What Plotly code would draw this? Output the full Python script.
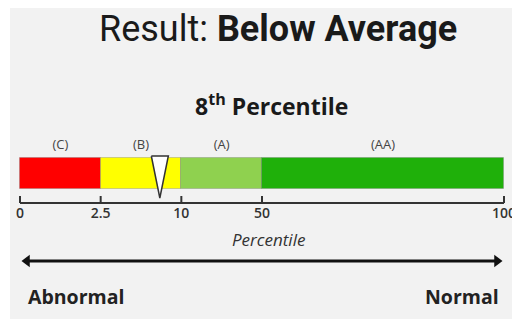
import numpy as np
import plotly.graph_objects as go

# ---- data ----
categories = ["(C)", "(B)", "(A)", "(AA)"]
boundaries = [0, 2.5, 10, 50, 100]           # percentile cut points
tick_labels = ["0", "2.5", "10", "50", "100"]
display_pos = [0, 1, 2, 3, 6]                # display scale position of each cut point
seg_colors = ["#ff0000", "#ffff00", "#8fd14f", "#1fb00a"]
result_percentile = 8
result_label = "Below Average"

# ---- layout helpers ----
W, H = 512, 322
PX_PER_UNIT = 80.67
X0_PX = 20
x_range = [-X0_PX / PX_PER_UNIT, (W - X0_PX) / PX_PER_UNIT]

def scale(p):
    return float(np.interp(p, boundaries, display_pos))

def px_to_unit(px):
    return (px - X0_PX) / PX_PER_UNIT

fig = go.Figure()

# segments as horizontal bars
starts = display_pos[:-1]
widths = [display_pos[i + 1] - display_pos[i] for i in range(len(categories))]
BAR_Y, BAR_H = 173.5, 31
fig.add_trace(go.Bar(
    orientation="h",
    y=[BAR_Y] * len(categories),
    x=widths,
    base=starts,
    width=BAR_H,
    marker=dict(color=seg_colors, line=dict(color="rgba(120,120,120,0.35)", width=1)),
    hoverinfo="skip",
    showlegend=False,
))

# category labels above segments
centers = [s + w / 2 for s, w in zip(starts, widths)]
fig.add_trace(go.Scatter(
    x=centers, y=[146] * len(categories), mode="text", text=categories,
    textfont=dict(family="Open Sans", size=13, color="#444444"),
    hoverinfo="skip", showlegend=False,
))

# axis line with ticks
AX_Y, TICK_TOP = 203, 196
ax_x, ax_y = [], []
ax_x += [display_pos[0], display_pos[-1], None]
ax_y += [AX_Y, AX_Y, None]
for p in display_pos:
    ax_x += [p, p, None]
    ax_y += [AX_Y, TICK_TOP, None]
fig.add_trace(go.Scatter(
    x=ax_x, y=ax_y, mode="lines", line=dict(color="#333333", width=2),
    hoverinfo="skip", showlegend=False,
))
fig.add_trace(go.Scatter(
    x=display_pos, y=[214] * len(display_pos), mode="text", text=tick_labels,
    textfont=dict(family="Open Sans", size=14, color="#333333", weight=600),
    hoverinfo="skip", showlegend=False,
))

# pointer triangle at result percentile
px = scale(result_percentile)
half_w = 8.5 / PX_PER_UNIT
fig.add_trace(go.Scatter(
    x=[px - half_w, px + half_w, px, px - half_w],
    y=[156, 156, 198, 156],
    mode="lines", fill="toself", fillcolor="white",
    line=dict(color="#333333", width=1.5),
    hoverinfo="skip", showlegend=False,
))

# double-headed arrow
ARR_Y = 261
fig.add_trace(go.Scatter(
    x=[px_to_unit(28), px_to_unit(496)],
    y=[ARR_Y, ARR_Y], mode="lines", line=dict(color="#111111", width=3),
    hoverinfo="skip", showlegend=False,
))
fig.add_trace(go.Scatter(
    x=[px_to_unit(27), px_to_unit(497)],
    y=[ARR_Y, ARR_Y], mode="markers",
    marker=dict(symbol=["triangle-left", "triangle-right"], size=11, color="#111111"),
    hoverinfo="skip", showlegend=False,
))

annotations = [
    dict(x=278 / W, y=29, xref="paper", yref="y", showarrow=False,
         text="Result: <b>" + result_label + "</b>",
         font=dict(family="Roboto", size=36, color="#1a1a1a")),
    dict(x=271 / W, y=105, xref="paper", yref="y", showarrow=False,
         text="<b>%d<sup>th</sup> Percentile</b>" % result_percentile,
         font=dict(family="Open Sans", size=23, color="#1a1a1a")),
    dict(x=268 / W, y=239, xref="paper", yref="y", showarrow=False,
         text="<i>Percentile</i>",
         font=dict(family="Open Sans", size=17, color="#333333")),
    dict(x=26 / W, y=296, xref="paper", yref="y", showarrow=False, xanchor="left",
         text="<b>Abnormal</b>",
         font=dict(family="Open Sans", size=19.5, color="#222222")),
    dict(x=501 / W, y=296, xref="paper", yref="y", showarrow=False, xanchor="right",
         text="<b>Normal</b>",
         font=dict(family="Open Sans", size=19.5, color="#222222")),
]

fig.update_layout(
    width=W, height=H,
    margin=dict(l=0, r=0, t=0, b=0),
    paper_bgcolor="white", plot_bgcolor="rgba(0,0,0,0)",
    xaxis=dict(range=x_range, visible=False, fixedrange=True),
    yaxis=dict(range=[H, 0], visible=False, fixedrange=True),
    shapes=[dict(type="rect", xref="paper", yref="paper", x0=10 / W, x1=1,
                 y0=3 / H, y1=1 - 8 / H, fillcolor="#f2f2f2", line=dict(width=0),
                 layer="below")],
    annotations=annotations,
    bargap=0,
)

fig.write_html("out.html", config={"displayModeBar": False},
               post_script="document.body.style.margin='0';document.body.style.overflow='hidden';")
